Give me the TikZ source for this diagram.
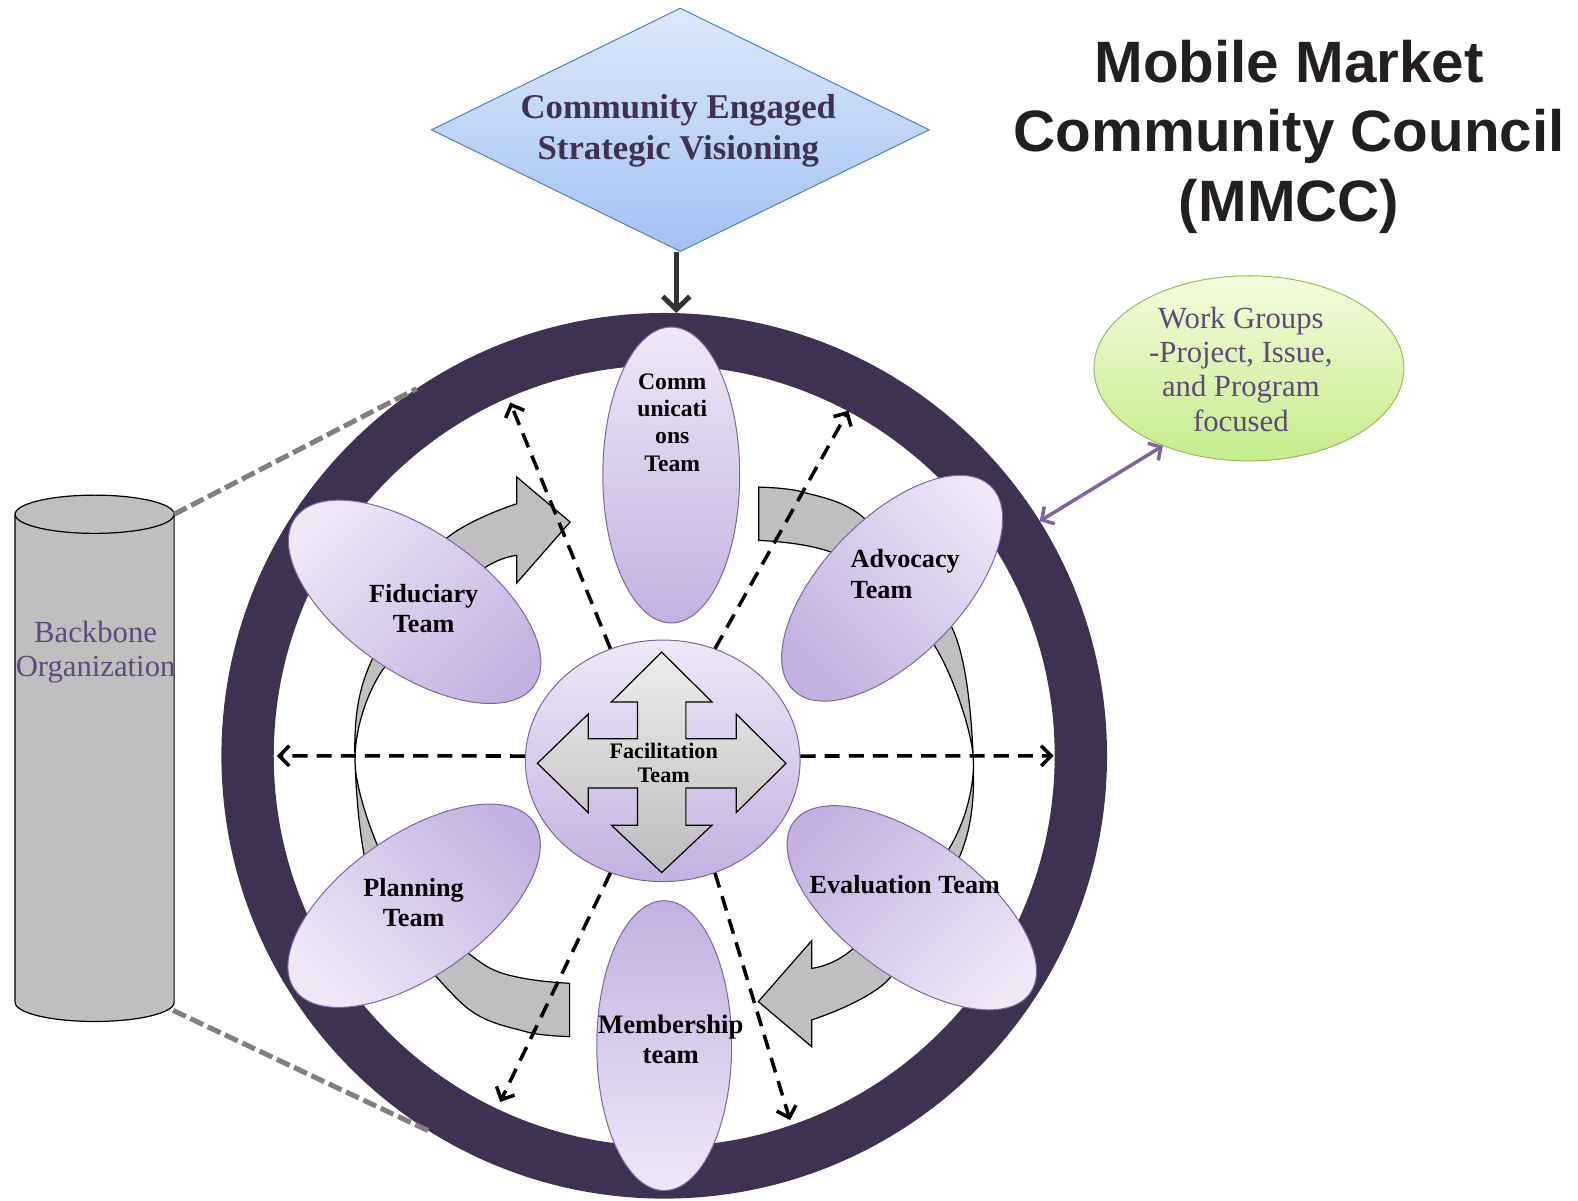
\documentclass[tikz,border=0pt]{standalone}
\usepackage{fontspec}
\setmainfont{Liberation Serif}
\newfontfamily\headfont{Liberation Sans}
\usetikzlibrary{shapes.geometric,arrows.meta}

\definecolor{ringc}{HTML}{3F3151}
\definecolor{textpurple}{HTML}{5F497A}
\definecolor{lavlight}{HTML}{EEE8F7}
\definecolor{lavdark}{HTML}{C3B0E1}
\definecolor{lavedge}{HTML}{8064A2}
\definecolor{bluelight}{HTML}{DDE9FB}
\definecolor{bluedark}{HTML}{A2C1F4}
\definecolor{blueedge}{HTML}{4F81BD}
\definecolor{greenlight}{HTML}{F4FCDD}
\definecolor{greendark}{HTML}{C5EC8B}
\definecolor{greenedge}{HTML}{9BBB59}
\definecolor{blockgray}{HTML}{BFBFBF}
\definecolor{linkgray}{HTML}{808080}
\definecolor{crosslight}{HTML}{EDEDED}
\definecolor{crossdark}{HTML}{BCBCBC}
\definecolor{titleink}{HTML}{231F20}

\begin{document}
\begin{tikzpicture}[x=1pt,y=-1pt,
  team/.style={ellipse, draw=lavedge, line width=1pt, inner sep=0pt,
    top color=lavlight, bottom color=lavdark, shading angle=#1},
  teamtext/.style={font=\bfseries\fontsize{26}{30}\selectfont, align=center, text=black, inner sep=0pt},
  spoke/.style={line width=3.5pt, dash pattern=on 15pt off 9pt,
    -{Straight Barb[length=10pt,width=20pt,line width=3.5pt]}},
  link/.style={linkgray, line width=5pt, dash pattern=on 14pt off 5pt},
  blockarrow/.style={fill=blockgray, draw=black, line width=1.2pt, line join=miter},
  plaintext/.style={font=\fontsize{30.5}{34}\selectfont, text=textpurple, align=center, inner sep=0pt}
]
\useasboundingbox (0,0) rectangle (1568,1193);

% council ring
\node[circle, draw=ringc, line width=52pt, minimum size=828pt, inner sep=0pt] (council) at (660,751) {};

% backbone cylinder
\path[fill=blockgray, draw=black, line width=1.2pt] (15,511) -- (15,996)
  arc[start angle=180, end angle=0, x radius=79, y radius=19] -- (173,511) -- cycle;
\draw[fill=blockgray, line width=1.2pt] (94,511) ellipse[x radius=79, y radius=19];
\coordinate (cyltop) at (173,511);
\coordinate (cylbot) at (172,1004);
\node[plaintext] (backbone) at (95,648) {Backbone\\Organization};

\draw[link] (cyltop) -- (council.124);
\draw[link] (cylbot) -- (council.238);

% curved cycle arrows (the left one is the right one turned half a turn)
\foreach \turn in {0,180} {
  \begin{scope}[rotate around={\turn:(660,757)}]
    \path[blockarrow]
      plot[smooth] coordinates {(754,484) (798,489) (860,516) (947,626) (967,752) (956,845) (884,972) (806.5,1013.5)}
      -- (806.5,1040) -- (753.5,995.3) -- (806.5,934.8) -- (806.5,962.2)
      -- plot[smooth] coordinates {(806.5,962.2) (846,944) (942,845) (967,752) (927,639) (835,553) (754,537)}
      -- cycle;
  \end{scope}
}

% team ellipses
\node[team=0, minimum width=136pt, minimum height=294pt] (comm) at (667,472) {};
\node[team=180, minimum width=134pt, minimum height=288pt] (member) at (660,1039) {};
\node[team=45, minimum width=290pt, minimum height=140pt, rotate=-35] (fid) at (412,598) {};
\node[team=-45, minimum width=282pt, minimum height=138pt, rotate=46] (adv) at (886.5,584.5) {};
\node[team=135, minimum width=290pt, minimum height=140pt, rotate=35] (plan) at (411.5,900) {};
\node[team=-135, minimum width=290pt, minimum height=136pt, rotate=-36] (eval) at (906,902) {};

% facilitation hub
\node[team=0, minimum width=273pt, minimum height=240pt] (fac) at (658.5,756) {};

% dashed spokes
\coordinate (tipW) at (275,751);
\coordinate (tipE) at (1047,751);
\coordinate (tipNW) at (507,400);
\coordinate (tipNE) at (843,408);
\coordinate (tipSW) at (497,1095);
\coordinate (tipSE) at (785,1113);
\draw[spoke] (fac.178) -- (tipW);
\draw[spoke] (fac.2) -- (tipE);
\draw[spoke] (fac.115) -- (tipNW);
\draw[spoke] (fac.65) -- (tipNE);
\draw[spoke] (fac.245) -- (tipSW);
\draw[spoke] (fac.295) -- (tipSE);

% four-way arrow inside the hub
\path[draw=black, line width=1.2pt, top color=crosslight, bottom color=crossdark]
  (657.5,648) -- (707.5,697.5) -- (681.5,697.5) -- (681.5,734) -- (731.5,734)
  -- (731.5,709.5) -- (781,758.5) -- (731.5,807.5) -- (731.5,783) -- (681.5,783)
  -- (681.5,820) -- (707.5,820) -- (657.5,867) -- (607.5,820) -- (633.5,820)
  -- (633.5,783) -- (584.5,783) -- (584.5,807.5) -- (534,758.5) -- (584.5,709.5)
  -- (584.5,734) -- (633.5,734) -- (633.5,697.5) -- (607.5,697.5) -- cycle;

% team labels
\node[teamtext, font=\bfseries\fontsize{23.5}{27}\selectfont] (commtext) at (668,420) {Comm\\unicati\\ons\\Team};
\node[teamtext, font=\bfseries\fontsize{26.5}{30}\selectfont] (membertext) at (666.5,1033) {Membership\\team};
\node[teamtext] (fidtext) at (421,605) {Fiduciary\\Team};
\node[teamtext, align=left] (advtext) at (899.5,570.5) {Advocacy\\Team};
\node[teamtext] (plantext) at (411,896.5) {Planning\\Team};
\node[teamtext] (evaltext) at (899,879) {Evaluation Team};
\node[teamtext, font=\bfseries\fontsize{22}{24}\selectfont] (factext) at (659.5,758) {Facilitation\\Team};

% strategic visioning
\node[diamond, aspect=2.05, inner sep=0pt, minimum width=495pt, minimum height=242pt,
  draw=blueedge, line width=1pt, top color=bluelight, bottom color=bluedark] (vision) at (676,129) {};
\node[font=\bfseries\fontsize{34.5}{40}\selectfont, text=ringc, align=center, inner sep=0pt]
  (visiontext) at (674,130) {Community Engaged\\Strategic Visioning};
\draw[draw=black!80, line width=5pt, -{Straight Barb[length=13pt,width=27pt,line width=5pt]}]
  ([xshift=-4pt]vision.south) -- ([xshift=-4pt]vision.south |- council.north);

% work groups
\node[ellipse, draw=greenedge, line width=1pt, inner sep=0pt, minimum width=308pt, minimum height=184pt,
  top color=greenlight, bottom color=greendark] (work) at (1241,366) {};
\node[plaintext] (worktext) at (1233,367) {Work Groups\\-Project, Issue,\\and Program\\focused};
\draw[lavedge, line width=3.5pt,
  {Straight Barb[length=9pt,width=20pt,line width=3.5pt]}-{Straight Barb[length=9pt,width=20pt,line width=3.5pt]}]
  (council.32) -- (work.222);

% title
\node[font=\headfont\bfseries\fontsize{58}{69}\selectfont, text=titleink, align=center, inner sep=0pt] (title) at (1281,136)
  {Mobile Market\\Community Council\\(MMCC)};
\end{tikzpicture}
\end{document}
